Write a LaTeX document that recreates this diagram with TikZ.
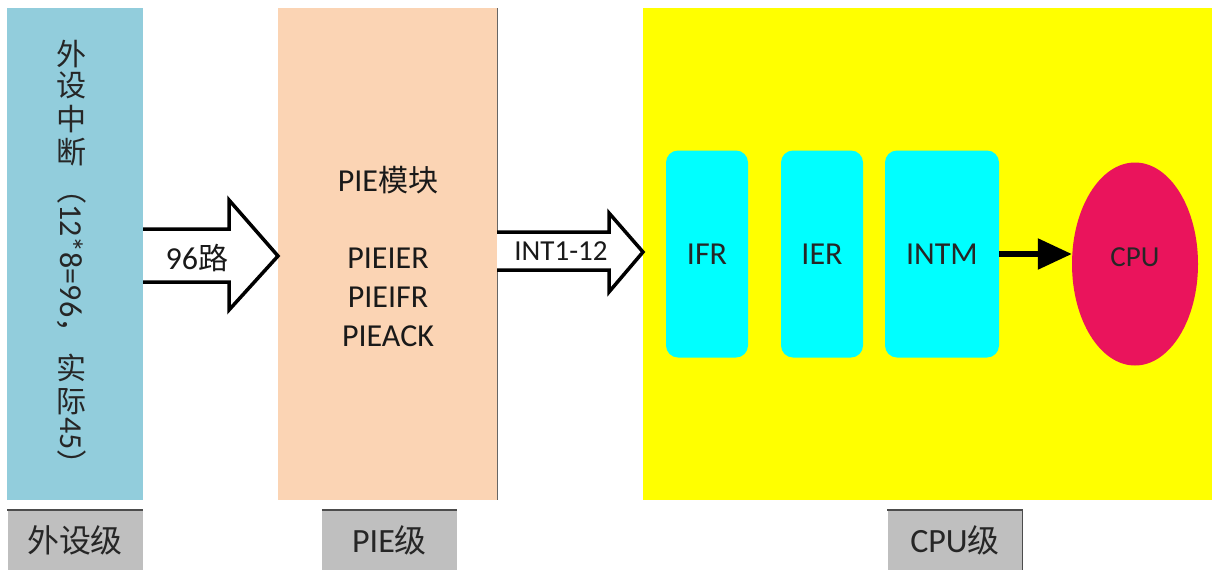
\documentclass[tikz,border=0pt]{standalone}
\usepackage{fontspec}
\setmainfont{Carlito}
\newfontfamily\cjk[Scale=0.94]{Noto Sans CJK SC}
\usetikzlibrary{calc,arrows.meta,shapes.geometric}
\definecolor{cblue}{HTML}{92CDDC}
\definecolor{cpeach}{HTML}{FBD4B4}
\definecolor{cyel}{HTML}{FFFF00}
\definecolor{ccyan}{HTML}{00FFFF}
\definecolor{cred}{HTML}{EA145C}
\definecolor{cgray}{HTML}{BFBFBF}
\newcommand{\fs}[1]{\fontsize{#1}{#1}\selectfont}
\begin{document}
\begin{tikzpicture}[x=1pt,y=-1pt,
  panel/.style={rectangle,inner sep=0pt,outer sep=0pt},
  reg/.style={rectangle,rounded corners=12pt,fill=ccyan,inner sep=0pt,minimum height=207pt,font=\fs{32},text=black!85},
  lbl/.style={rectangle,fill=cgray,inner sep=0pt,minimum width=135pt,minimum height=60pt,font=\fs{34},text=black!85},
  blockarrow/.style={draw=black,line width=3.5pt,fill=white,line join=miter},
  vtxt/.style={inner sep=0pt,font=\fs{32},text=black!85},
  txt/.style={inner sep=0pt,font=\fs{32},text=black!90}]
\useasboundingbox (0,0) rectangle (1212,570);
% panels
\node[panel,fill=cblue,minimum width=136pt,minimum height=492pt] (blue) at (75,254) {};
\node[panel,fill=cpeach,minimum width=219pt,minimum height=492pt] (pie) at (387.5,254) {};
\draw[black!60,line width=1pt] (pie.north east) -- (pie.south east);
\node[panel,fill=cyel,minimum width=569pt,minimum height=492pt] (cpulvl) at (927.5,254) {};
% vertical text
\node[vtxt] (v1) at (72,54) {\cjk 外};
\node[vtxt] (v2) at (72,85) {\cjk 设};
\node[vtxt] (v3) at (72,119) {\cjk 中};
\node[vtxt] (v4) at (72,152) {\cjk 断};
\node[vtxt,anchor=north] (v5) at (72,188) {\rotatebox{-90}{\kern-14pt{\cjk （}12*8=96{\cjk ，}}};
\node[vtxt] (v6) at (72,368) {\cjk 实};
\node[vtxt] (v7) at (72,402) {\cjk 际};
\node[vtxt,anchor=north] (v8) at (72,417) {\rotatebox{-90}{45{\cjk ）}}};
% PIE texts
\node[txt] (t1) at (388,180) {PIE{\cjk 模块}};
\node[txt] (t2) at (388,258) {PIEIER};
\node[txt] (t3) at (388,297) {PIEIFR};
\node[txt] (t4) at (388,336) {PIEACK};
% block arrow 1
\draw[blockarrow] ($(blue.east)+(0,-25)$) -- ($(pie.west)+(-49,-25)$) -- ($(pie.west)+(-49,-54)$)
  -- ($(pie.west)+(0,2)$) -- ($(pie.west)+(-49,56)$) -- ($(pie.west)+(-49,28)$) -- ($(blue.east)+(0,28)$);
\node[txt] (a1) at (197,258) {96{\cjk 路}};
% block arrow 2
\draw[blockarrow] ($(pie.east)+(0,-22)$) -- ($(cpulvl.west)+(-34,-22)$) -- ($(cpulvl.west)+(-34,-41)$)
  -- ($(cpulvl.west)+(0,-2)$) -- ($(cpulvl.west)+(-34,38)$) -- ($(cpulvl.west)+(-34,16)$) -- ($(pie.east)+(0,16)$);
\node[txt,font=\fs{29}] (a2) at (561,251) {INT1-12};
% registers
\node[reg,minimum width=82pt] (ifr) at (707,254) {IFR};
\node[reg,minimum width=82pt] (ier) at (822,254) {IER};
\node[reg,minimum width=114pt] (intm) at (942,254) {INTM};
\node[ellipse,fill=cred,inner sep=0pt,minimum width=126pt,minimum height=203pt] (cpu) at (1135,264) {};
\node[txt,font=\fs{29},text=black!85] (cputxt) at (1135,257) {CPU};
\draw[line width=5.5pt,-{Triangle[length=34pt,width=30pt]}] (intm.east) -- (intm.east -| cpu.west);
% level labels
\node[lbl] (l1) at (75,540) {\cjk 外设级};
\node[lbl] (l2) at (389.5,540) {PIE{\cjk 级}};
\node[lbl] (l3) at (955,540) {CPU{\cjk 级}};
\foreach \n in {l1,l2,l3}{\draw[black!70,line width=2pt] (\n.north west) -- (\n.north east);}
\draw[black!70,line width=1.5pt] (l3.north east) -- (l3.south east);
\end{tikzpicture}
\end{document}
